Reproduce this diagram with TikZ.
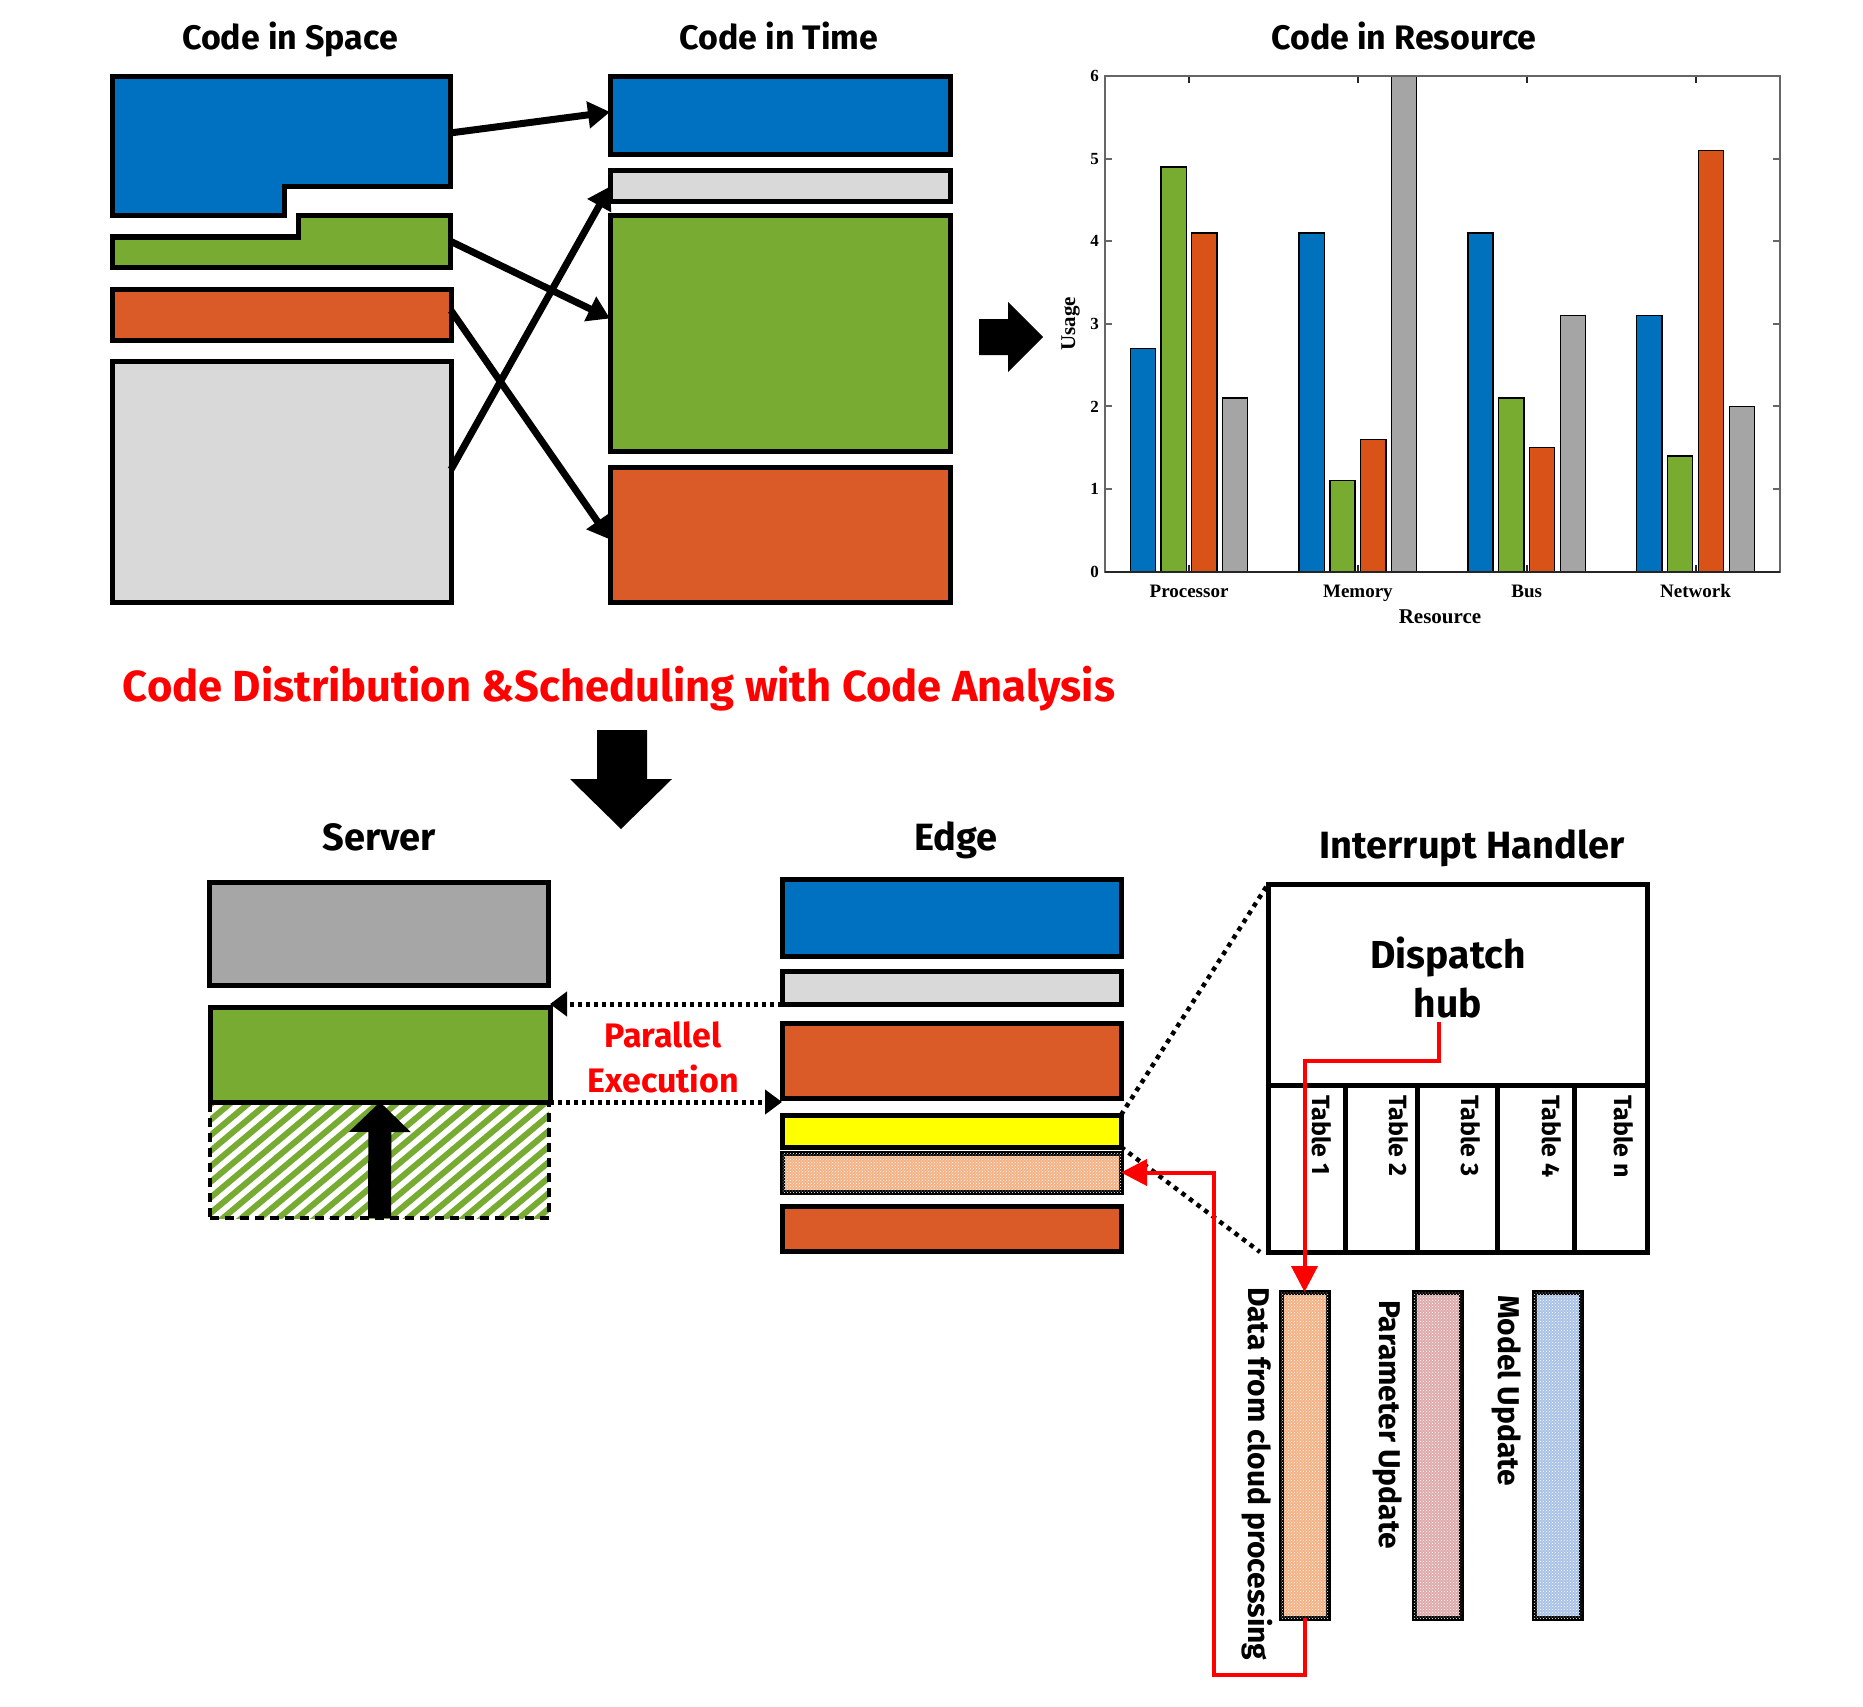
\documentclass[tikz,border=0pt]{standalone}
\usepackage{fontspec}
\setmainfont{Fira Sans}
\newfontfamily\tmsfont{Liberation Serif}
\usetikzlibrary{arrows.meta,patterns,calc}
\definecolor{cblue}{HTML}{0070C0}
\definecolor{cgreen}{HTML}{78AB31}
\definecolor{corange}{HTML}{DA5B27}
\definecolor{clgrey}{HTML}{D9D9D9}
\definecolor{cgrey}{HTML}{A6A6A6}
\definecolor{cyel}{HTML}{FFFF00}
\definecolor{cpeach}{HTML}{F4B183}
\definecolor{cpink}{HTML}{D99A9A}
\definecolor{cpblue}{HTML}{9FBBE3}
\definecolor{cred}{HTML}{FF0000}
\definecolor{mblue}{HTML}{0072BD}
\definecolor{mgreen}{HTML}{77AC30}
\definecolor{morange}{HTML}{D95319}
\definecolor{mgrey}{HTML}{A5A5A5}
\newcommand\fsz[1]{\fontsize{#1}{#1}\selectfont}
\newcommand\boxat[6][]{\node[box,#1,anchor=north west,minimum width={(#5-#3)*1pt},minimum height={(#6-#4)*1pt}] (#2) at (#3,#4) {};}
\begin{document}
\begin{tikzpicture}[x=1pt,y=-1pt,
  box/.style={draw=black,line width=5pt,outer sep=0pt,inner sep=0pt},
  bigarrow/.style={line width=7pt,-{Triangle[length=22pt,width=26pt]}},
  ttl/.style={font=\bfseries\fsz{34},anchor=base,inner sep=0pt},
  ttlb/.style={font=\bfseries\fsz{38},anchor=base,inner sep=0pt},
  partxt/.style={font=\bfseries\fsz{34},text=cred,anchor=base,inner sep=0pt},
  disptxt/.style={font=\bfseries\fsz{39},anchor=base,inner sep=0pt},
  tbl/.style={font=\bfseries\fsz{25},rotate=-90,anchor=west,inner sep=0pt},
  vlab/.style={font=\bfseries\fsz{30},rotate=-90,anchor=west,inner sep=0pt},
  bar/.style={draw=black,line width=1.3pt},
  axisl/.style={draw=black!60,line width=2pt},
  xlab/.style={font=\tmsfont\bfseries\fsz{19},anchor=base,inner sep=0pt},
  ylab/.style={font=\tmsfont\bfseries\fsz{17},anchor=east,inner sep=0pt},
  dotarrow/.style={line width=5pt,dash pattern=on 4pt off 4pt,-{Triangle[length=17pt,width=24pt]}},
  dotline/.style={line width=4.5pt,dash pattern=on 4.5pt off 5pt},
  redl/.style={draw=cred,line width=4pt},
  redtip/.style={-{Triangle[length=26pt,width=26pt]}},
  patt/.style={postaction={pattern=crosshatch dots,pattern color=white}}
]
\useasboundingbox[fill=white] (0,0) rectangle (1863,1707);

% ---------------- titles
\node[ttl] (tspace) at (290,49.5) {Code in Space};
\node[ttl] (ttime) at (779,49.5) {Code in Time};
\node[ttl] (tres) at (1404,49.5) {Code in Resource};

% ---------------- code in space
\draw[line width=5pt,fill=cblue,line join=miter] (112,77) -- (450,77) -- (450,187) -- (284,187) -- (284,216) -- (112,216) -- cycle;
\draw[line width=5pt,fill=cgreen,line join=miter] (298,216) -- (450,216) -- (450,267) -- (112,267) -- (112,237) -- (298,237) -- cycle;
\coordinate (sblueE) at (450,133);
\coordinate (sgreenE) at (450,241);
\boxat[fill=corange]{sorange}{112}{289}{451}{340}
\boxat[fill=clgrey]{sgrey}{112}{361}{451}{602}

% ---------------- code in time
\boxat[fill=cblue]{tblue}{610}{77}{950}{155}
\boxat[fill=clgrey]{tlgrey}{610}{171}{950}{202}
\boxat[fill=cgreen]{tgreen}{610}{216}{950}{451}
\boxat[fill=corange]{torange}{610}{467}{950}{602}

\draw[bigarrow] (sblueE) -- ($(tblue.west)+(0,-4)$);
\draw[bigarrow] (sgreenE) -- ($(tgreen.west)+(0,-15)$);
\draw[bigarrow] ($(sorange.east)+(0,-4)$) -- ($(torange.west)+(0,5)$);
\draw[bigarrow] ($(sgrey.east)+(0,-12)$) -- (tlgrey.west);

% big right arrow
\fill[black] (979,319) -- (1008,319) -- (1008,302) -- (1043,337) -- (1008,372) -- (1008,355) -- (979,355) -- cycle;

% ---------------- chart
\foreach \g/\va/\vb/\vc/\vd/\lab in {0/2.7/4.9/4.1/2.1/Processor,1/4.1/1.1/1.6/6/Memory,2/4.1/2.1/1.5/3.1/Bus,3/3.1/1.4/5.1/2/Network}{
  \pgfmathsetmacro\cx{1104.6+168.85*(\g+0.5)}
  \draw[bar,fill=mblue] (\cx-58.8,571.5) rectangle (\cx-33.6,571.5-82.55*\va);
  \draw[bar,fill=mgreen] (\cx-28,571.5) rectangle (\cx-2.8,571.5-82.55*\vb);
  \draw[bar,fill=morange] (\cx+2.8,571.5) rectangle (\cx+28,571.5-82.55*\vc);
  \draw[bar,fill=mgrey] (\cx+33.6,571.5) rectangle (\cx+58.8,571.5-82.55*\vd);
  \draw[axisl,draw=black!85] (\cx,571.5) -- ++(0,-7);
  \draw[axisl,draw=black!85] (\cx,76.2) -- ++(0,7);
  \node[xlab] (xl\g) at (\cx,597) {\lab};
}
\foreach \v in {0,...,6}{
  \draw[axisl] (1104.6,571.5-82.55*\v) -- ++(7,0);
  \draw[axisl] (1780,571.5-82.55*\v) -- ++(-7,0);
  \node[ylab] (yl\v) at (1099,571.5-82.55*\v) {\v};
}
\draw[axisl] (1104.6,76.2) rectangle (1780,571.5);
\draw[axisl,draw=black!85] (1104.6,571.5) -- (1780,571.5);
\node[font=\tmsfont\bfseries\fsz{21},anchor=base,inner sep=0pt] (xtitle) at (1440,623) {Resource};
\node[font=\tmsfont\bfseries\fsz{21},rotate=90,inner sep=0pt] (ytitle) at (1070.5,324) {Usage};

% ---------------- main red title and down arrow
\node[font=\bfseries\fsz{43.5},text=cred,anchor=base,inner sep=0pt] (tmain) at (619,701) {Code Distribution \&Scheduling with Code Analysis};
\fill[black] (597,730) -- (647,730) -- (647,779) -- (672,779) -- (621,829) -- (570,779) -- (597,779) -- cycle;

% ---------------- server
\node[ttlb] (tserver) at (379,850) {Server};
\node[ttlb] (tedge) at (956,850) {Edge};
\node[ttlb] (tih) at (1472,858) {Interrupt Handler};

\boxat[fill=cgrey]{sgreybox}{209}{882}{548}{985}
\begin{scope}
  \clip (210,1102) rectangle (549,1218);
  \foreach \x in {40,58.5,...,570}{\draw[cgreen,line width=6pt] (\x,1232) -- ++(156,-131);}
\end{scope}
\boxat[dash pattern=on 9pt off 6pt,line width=4.5pt]{shatch}{210}{1102}{549}{1218}
\boxat[fill=cgreen]{sgreen}{210}{1007}{550}{1102}
\draw[line width=23pt,-{Triangle[length=30pt,width=60pt]}] (shatch.south) -- (sgreen.south);

% ---------------- edge
\boxat[fill=cblue]{eblue}{782}{879}{1121}{956}
\boxat[fill=clgrey]{elgrey}{782}{971}{1121}{1004}
\boxat[fill=corange]{eorange}{782}{1023}{1121}{1098}
\boxat[fill=cyel]{eyellow}{782}{1115}{1121}{1147}
\boxat[fill=cpeach,patt]{epeach}{782}{1153}{1121}{1192}
\boxat[fill=corange]{eorange2}{782}{1206}{1121}{1251}

\draw[dotarrow] (elgrey.south west) -- (elgrey.south west -| sgreen.east);
\draw[dotarrow] (sgreen.south east) -- (sgreen.south east -| eyellow.west);
\node[partxt] (tpar1) at (663,1047) {Parallel};
\node[partxt] (tpar2) at (663,1092) {Execution};

% ---------------- interrupt handler
\boxat{ih}{1268}{884}{1647}{1252}
\draw[line width=5pt] (1268,1085) -- (1647,1085);
\foreach \xx in {1345,1417.5,1497,1574}{\draw[line width=5pt] (\xx,1085) -- (\xx,1252);}
\node[disptxt] (tdisp) at (1448,968) {Dispatch};
\node[disptxt] (thub) at (1448,1017) {hub};
\node[tbl] (tb1) at (1322,1095) {Table 1};
\node[tbl] (tb2) at (1399,1095) {Table 2};
\node[tbl] (tb3) at (1471,1095) {Table 3};
\node[tbl] (tb4) at (1552,1095) {Table 4};
\node[tbl] (tbn) at (1624,1095) {Table n};

\draw[dotline] (eyellow.north east) -- (ih.north west);
\draw[dotline] (eyellow.south east) -- ($(ih.south west)+(-8,0)$);

% ---------------- update bars
\boxat[fill=cpeach,patt]{databar}{1281}{1292}{1328}{1618}
\boxat[fill=cpink!85,patt]{parbar}{1414}{1292}{1461}{1618}
\boxat[fill=cpblue!90,patt]{modbar}{1534}{1292}{1581}{1618}
\node[vlab] (tdata) at (1257,1287) {Data from cloud processing};
\node[vlab] (tparam) at (1388,1300) {Parameter Update};
\node[vlab] (tmodel) at (1507,1295) {Model Update};

% ---------------- red connectors
\coordinate (hubfoot) at (1439,1022);
\draw[redl,redtip] (hubfoot) -- (1439,1061) -| (databar.north);
\draw[redl,redtip] (databar.south) -- ++(0,57) -| ($(epeach.east)+(93,0)$) -- (epeach.east);
\end{tikzpicture}
\end{document}
